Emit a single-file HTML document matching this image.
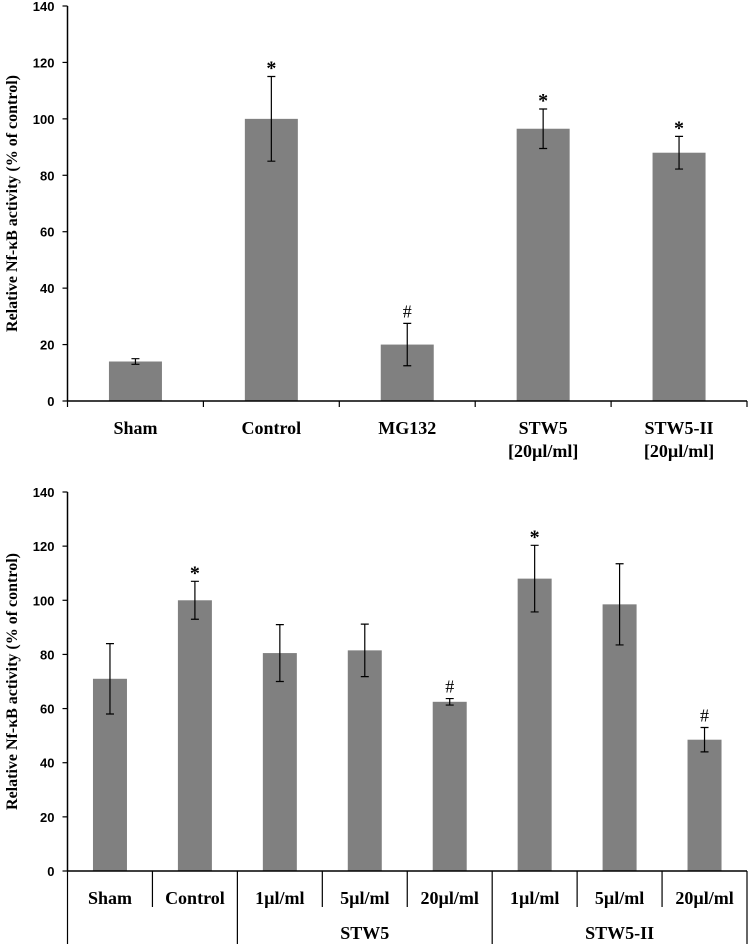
<!DOCTYPE html>
<html><head><meta charset="utf-8"><style>
html,body{margin:0;padding:0;background:#fff;}
svg{display:block;}
.tk{font:bold 13px "Liberation Sans",sans-serif;fill:#000;}
.lb{font:bold 16px "Liberation Serif",serif;fill:#000;}
.xl{font:bold 18px "Liberation Serif",serif;fill:#000;}
</style></head><body>
<svg id="chart" width="750" height="947" viewBox="0 0 750 947" xmlns="http://www.w3.org/2000/svg"></svg>
<script>
const topCats = ["Sham","Control","MG132","STW5|[20µl/ml]","STW5-II|[20µl/ml]"];
const topVals = [14,100,20,96.5,88];
const topErr = [1,15,7.5,7,5.8];
const topMarks = ["","*","#","*","*"];
const botCats = ["Sham","Control","1µl/ml","5µl/ml","20µl/ml","1µl/ml","5µl/ml","20µl/ml"];
const botVals = [71,100,80.5,81.5,62.5,108,98.5,48.5];
const botErr = [13,7,10.5,9.7,1.2,12.3,15,4.5];
const botMarks = ["","*","","","#","*","","#"];
const botGroups = ["STW5","STW5-II"];
const yTicks = [0,20,40,60,80,100,120,140];

const NS="http://www.w3.org/2000/svg";
const svg=document.getElementById('chart');
function mk(tag,attrs,parent){const e=document.createElementNS(NS,tag);for(const k in attrs)e.setAttribute(k,attrs[k]);(parent||svg).appendChild(e);return e;}

function panel(prefix,cats,vals,errs,marks,y0,y140,barW){
  const g=mk('g',{});
  
  
  const x0=67.5,x1=747;
  const yS=v=>y0-(v/140)*(y0-y140);
  const bw=(x1-x0)/cats.length;
  const xC=i=>x0+bw*(i+0.5);
  const ya=mk('line',{x1:x0,y1:y140,x2:x0,y2:y0,stroke:'#000','stroke-width':1.5},g);
  
  
  yTicks.forEach(t=>{
    mk('line',{x1:x0-5,y1:yS(t),x2:x0,y2:yS(t),stroke:'#000','stroke-width':1.2},g);
    const tx=mk('text',{x:x0-13,y:yS(t)+5,'text-anchor':'end',class:'tk'},g);
    tx.textContent=t;
    
    
  });
  const yt=mk('text',{x:0,y:0,class:'lb','text-anchor':'middle',transform:`translate(17,${(y0+y140)/2}) rotate(-90)`},g);
  yt.textContent='Relative Nf-κB activity (% of control)';
  
  
  vals.forEach((v,i)=>{
    const r=mk('rect',{x:xC(i)-barW/2,y:yS(v),width:barW,height:y0-yS(v),fill:'#808080'},g);
    
    
    const e=errs[i],xc=xC(i);
    const eb=mk('path',{d:`M${xc},${yS(v+e)}V${yS(v-e)}M${xc-4},${yS(v+e)}H${xc+4}M${xc-4},${yS(v-e)}H${xc+4}`,stroke:'#000','stroke-width':1.2,fill:'none'},g);
    
    
    if(marks[i]){
      const m=mk('text',{x:xc,y:yS(v+e)-(marks[i]=='*'?2:6),'text-anchor':'middle',class:'lb',style:marks[i]=='*'?'font-size:20px':'font-size:18px;font-weight:normal'},g);
      m.textContent=marks[i];
      
      
    }
  });
  const xa=mk('line',{x1:x0,y1:y0,x2:x1,y2:y0,stroke:'#000','stroke-width':1.5},g);
  
  
  return {g,x0,x1,bw,xC};
}

const p1=panel('top',topCats,topVals,topErr,topMarks,401,6,53);
for(let i=0;i<=topCats.length;i++){
  const x=p1.x0+p1.bw*i;
  mk('line',{x1:x,y1:401,x2:x,y2:407,stroke:'#000','stroke-width':1.2},p1.g);
}
topCats.forEach((c,i)=>{
  c.split('|').forEach((ln,j)=>{
    const t=mk('text',{x:p1.xC(i),y:434+j*23,'text-anchor':'middle',class:'xl'},p1.g);
    t.textContent=ln;
    
    
  });
});

const p2=panel('bottom',botCats,botVals,botErr,botMarks,871,492,34);
for(let i=0;i<=botCats.length;i++){
  const x=p2.x0+p2.bw*i;
  const long=(i===0||i===2||i===5||i===8);
  mk('line',{x1:x,y1:871,x2:x,y2:long?944:907,stroke:'#000','stroke-width':1.2},p2.g);
}
botCats.forEach((c,i)=>{
  const t=mk('text',{x:p2.xC(i),y:904,'text-anchor':'middle',class:'xl'},p2.g);
  t.textContent=c;
  
  
});
botGroups.forEach((gname,k)=>{
  const cx=k===0?p2.x0+p2.bw*3.5:p2.x0+p2.bw*6.5;
  const t=mk('text',{x:cx,y:939,'text-anchor':'middle',class:'xl'},p2.g);
  t.textContent=gname;
  
  
});
</script>
</body></html>
